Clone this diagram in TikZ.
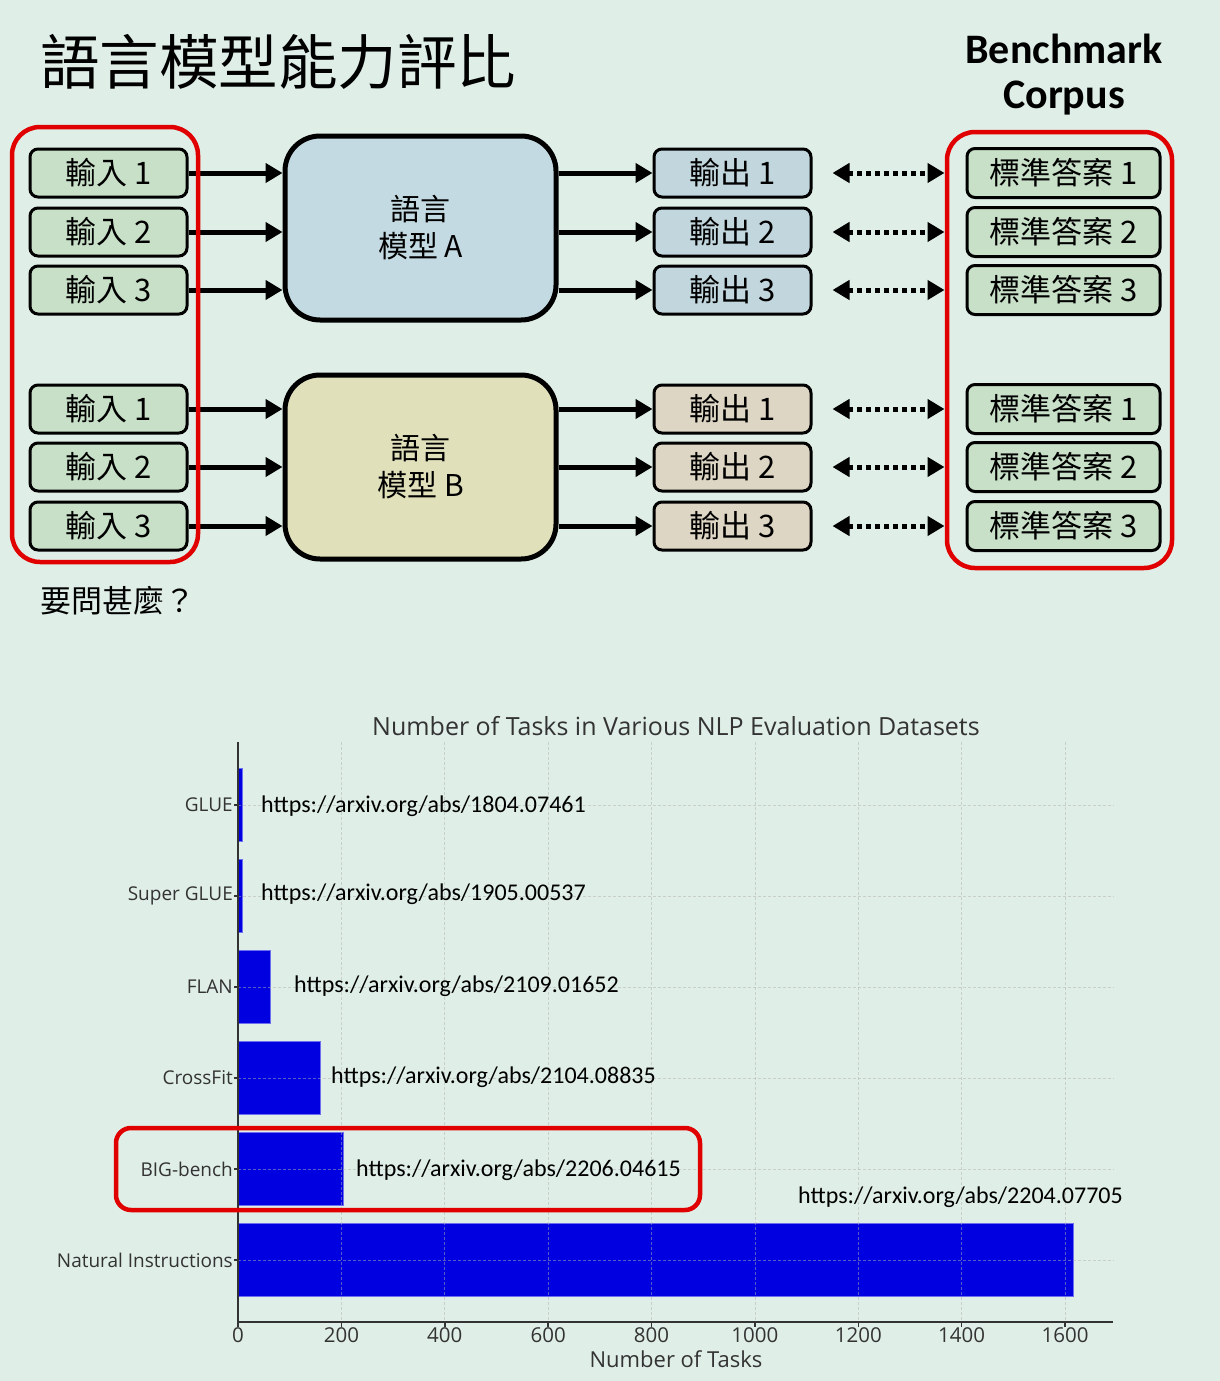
\documentclass[tikz,border=0pt]{standalone}
\usepackage{fontspec}
\setmainfont{Carlito}
\newfontfamily\cjk{Noto Sans CJK TC}
\newfontfamily\chartfont{Open Sans}
\usetikzlibrary{arrows.meta, positioning}
\definecolor{bgmint}{RGB}{223,238,230}
\definecolor{inputgreen}{RGB}{200,224,200}
\definecolor{modelblue}{RGB}{196,218,226}
\definecolor{outblue}{RGB}{194,214,222}
\definecolor{modelkhaki}{RGB}{224,224,187}
\definecolor{outtan}{RGB}{222,214,196}
\definecolor{alertred}{RGB}{224,0,0}
\definecolor{barblue}{RGB}{0,0,224}
\definecolor{baredge}{RGB}{110,110,240}
\definecolor{axisgray}{RGB}{51,51,51}
\newcommand{\boxfont}{\cjk\fontsize{31}{36}\selectfont}

\begin{document}
\begin{tikzpicture}[x=1pt, y=-1pt, >={Triangle[length=17pt, width=19pt]},
    iobox/.style={draw, line width=3pt, rounded corners=8pt, minimum width=157pt,
        minimum height=48pt, inner sep=0pt, font=\boxfont},
    inbox/.style={iobox, fill=inputgreen},
    ansbox/.style={iobox, fill=inputgreen, minimum width=193pt, minimum height=49pt},
    model/.style={draw, line width=5pt, rounded corners=35pt, minimum width=271pt,
        minimum height=184pt, align=center, font=\cjk\fontsize{30}{37}\selectfont},
    arr/.style={->, line width=5pt},
    dotarr/.style={<->, line width=5pt, dash pattern=on 5pt off 4pt,
        shorten <=20pt, shorten >=21pt},
    redbox/.style={draw=alertred, line width=4.5pt, rounded corners=28pt},
    grid/.style={gray!60, line width=0.8pt, dash pattern=on 3pt off 2pt, opacity=0.5},
    axis/.style={axisgray, line width=1.5pt},
    tick/.style={font=\chartfont\fontsize{19}{22}\selectfont, text=axisgray, inner sep=0pt},
    url/.style={font=\fontsize{24}{28}\selectfont, anchor=west, inner sep=0pt}]
    % Background
    \fill[bgmint] (0,0) rectangle (1220,1381);
    \useasboundingbox (0,0) rectangle (1220,1381);

    % Titles
    \node[anchor=west, inner sep=0pt, font=\cjk\fontsize{59.5}{62}\selectfont] (title) at (40,62) {語言模型能力評比};
    \node[align=center, font=\bfseries\fontsize{42}{45}\selectfont] (corpus) at (1064,75) {Benchmark\\Corpus};

    % Inputs
    \node[inbox] (inA1) at (108.5,173) {輸入 1};
    \node[inbox] (inA2) at (108.5,232) {輸入 2};
    \node[inbox] (inA3) at (108.5,290) {輸入 3};
    \node[inbox] (inB1) at (108.5,409) {輸入 1};
    \node[inbox] (inB2) at (108.5,467) {輸入 2};
    \node[inbox] (inB3) at (108.5,526) {輸入 3};

    % Models
    \node[model, fill=modelblue] (mA) at (420.5,228) {語言\\模型 A};
    \node[model, fill=modelkhaki] (mB) at (420.5,467) {語言\\模型 B};

    % Outputs
    \node[iobox, fill=outblue] (oA1) at (732.5,173) {輸出 1};
    \node[iobox, fill=outblue] (oA2) at (732.5,232) {輸出 2};
    \node[iobox, fill=outblue] (oA3) at (732.5,290) {輸出 3};
    \node[iobox, fill=outtan] (oB1) at (732.5,409) {輸出 1};
    \node[iobox, fill=outtan] (oB2) at (732.5,467) {輸出 2};
    \node[iobox, fill=outtan] (oB3) at (732.5,526) {輸出 3};

    % Reference answers
    \node[ansbox] (gA1) at (1063.5,173) {標準答案 1};
    \node[ansbox] (gA2) at (1063.5,232) {標準答案 2};
    \node[ansbox] (gA3) at (1063.5,290) {標準答案 3};
    \node[ansbox] (gB1) at (1063.5,409) {標準答案 1};
    \node[ansbox] (gB2) at (1063.5,467) {標準答案 2};
    \node[ansbox] (gB3) at (1063.5,526) {標準答案 3};

    % Connectors
    \foreach \m in {A,B} {
        \foreach \i in {1,2,3} {
            \draw[arr] (in\m\i.east) -- (in\m\i.east -| m\m.west);
            \draw[arr] (m\m.east |- o\m\i) -- (o\m\i.west);
            \draw[dotarr] (o\m\i) -- (g\m\i);
        }
    }

    % Highlight frames
    \draw[redbox] (12,127) rectangle (198,562);
    \draw[redbox] (947,132) rectangle (1172,568);
    \node[anchor=west, inner sep=0pt, font=\boxfont] (ask) at (40,601) {要問甚麼？};

    % Chart
    \node[font=\chartfont\fontsize{25}{28}\selectfont, text=axisgray] (ctitle) at (676,726) {Number of Tasks in Various NLP Evaluation Datasets};
    \begin{scope}[shift={(238,0)}, x=0.5169pt]
        \foreach \v/\yc in {9/805, 8/896, 62/987, 160/1078, 204/1169, 1616/1260}
            \filldraw[fill=barblue, draw=baredge, line width=0.8pt] (0,{\yc-36.5}) rectangle (\v,{\yc+36.5});
        \foreach \v in {200,400,...,1600}
            \draw[grid] (\v,742) -- (\v,1322);
        \foreach \yc in {805,896,987,1078,1169,1260} {
            \draw[grid] (0,\yc) -- (1693,\yc);
            \draw[axis] (0,\yc) -- (-8,\yc);
        }
        \draw[axis] (0,742) -- (0,1322) -- (1693,1322);
        \foreach \v in {0,200,...,1600} {
            \draw[axis] (\v,1322) -- (\v,1327);
            \node[tick, font=\chartfont\fontsize{20.5}{24}\selectfont] at (\v,1335) {\v};
        }
    \end{scope}

    % Dataset labels
    \node[tick, anchor=east] (lGLUE) at (233,805) {GLUE};
    \node[tick, anchor=east] (lSuper) at (233,896) {Super GLUE};
    \node[tick, anchor=east] (lFLAN) at (233,987) {FLAN};
    \node[tick, anchor=east] (lCross) at (233,1078) {CrossFit};
    \node[tick, anchor=east] (lBIG) at (233,1169) {BIG-bench};
    \node[tick, anchor=east] (lNI) at (233,1260) {Natural Instructions};

    % Paper links
    \node[url] (uGLUE) at (261,806) {https://arxiv.org/abs/1804.07461};
    \node[url] (uSuper) at (261,894) {https://arxiv.org/abs/1905.00537};
    \node[url] (uFLAN) at (294,986) {https://arxiv.org/abs/2109.01652};
    \node[url] (uCross) at (331,1077) {https://arxiv.org/abs/2104.08835};
    \node[url] (uBIG) at (356,1170) {https://arxiv.org/abs/2206.04615};
    \node[url] (uNI) at (798,1197) {https://arxiv.org/abs/2204.07705};

    \draw[redbox, rounded corners=15pt] (116,1128) rectangle (700,1210);
    \node[font=\chartfont\fontsize{22}{26}\selectfont, text=axisgray] (xlabel) at (676,1359) {Number of Tasks};
\end{tikzpicture}
\end{document}
